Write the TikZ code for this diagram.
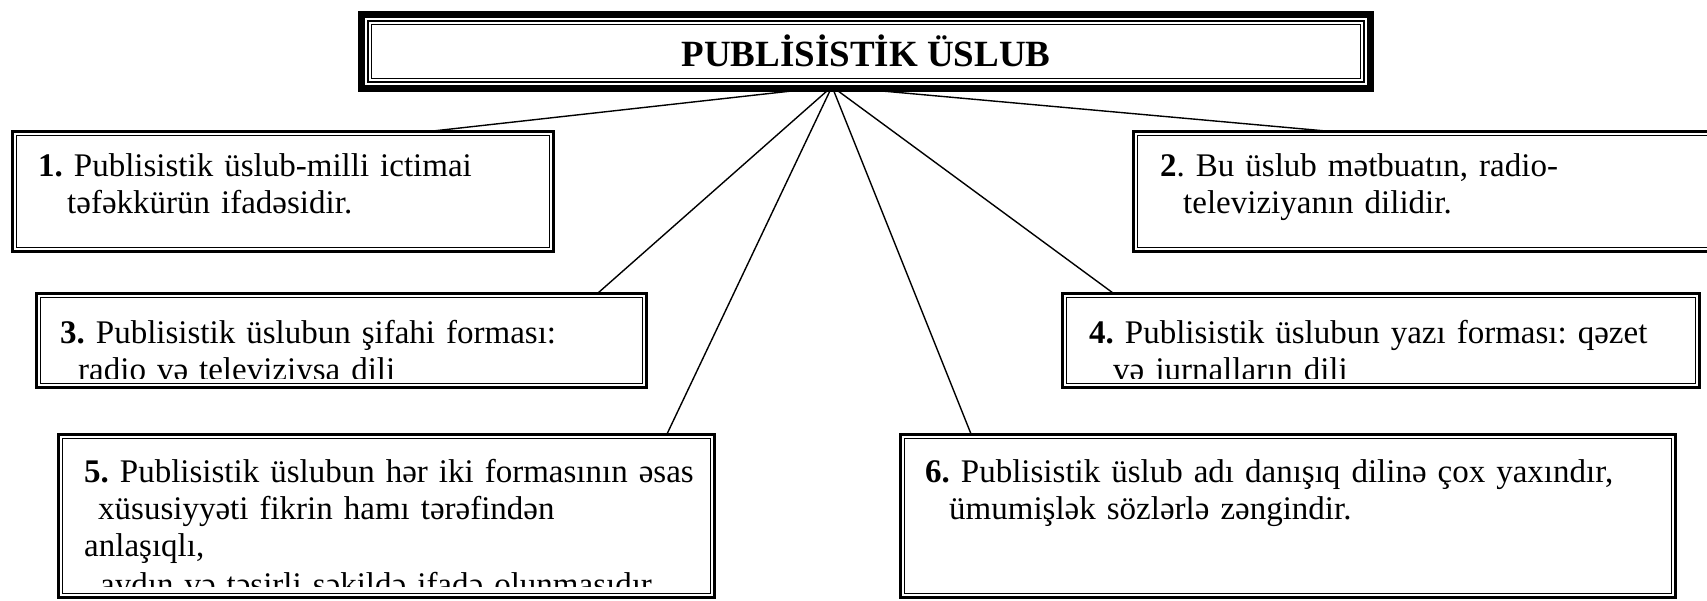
\documentclass[tikz,border=0pt]{standalone}
\usepackage{fontspec}
\setmainfont{Liberation Serif}
\usetikzlibrary{calc}
\tikzset{
  box/.style={draw, line width=2.6pt, inner sep=0pt},
  txt/.style={anchor=base west, inner sep=0pt, align=left, text width=900pt,
    font=\fontsize{33}{37}\selectfont},
  link/.style={line width=1.4pt},
  innerline/.style={line width=1.3pt}
}
\newcommand\frameinner[3]{\draw[#3] ([xshift=#2,yshift=-#2]#1.north west) rectangle ([xshift=-#2,yshift=#2]#1.south east);}
\begin{document}
\frenchspacing
\begin{tikzpicture}[x=1pt,y=-1pt]
\clip (0,0) rectangle (1707,600);
\fill[white] (0,0) rectangle (1707,600);

% title
\node[draw, line width=7pt, minimum width=1009pt, minimum height=74pt, inner sep=0pt,
  font=\fontsize{37}{40}\selectfont\bfseries] (title) at (866,51) {PUBLİSİSTİK ÜSLUB};
\frameinner{title}{10pt}{line width=2pt}
\frameinner{title}{13.5pt}{line width=1pt}

% boxes
\node[box, minimum width=541.4pt, minimum height=120.4pt] (b1) at (283,191.5) {};
\node[box, minimum width=585.4pt, minimum height=120.4pt] (b2) at (1426,191.5) {};
\node[box, minimum width=610.4pt, minimum height=94.4pt] (b3) at (341.5,340.5) {};
\node[box, minimum width=637.4pt, minimum height=94.4pt] (b4) at (1381,340.5) {};
\node[box, minimum width=656.4pt, minimum height=163.4pt] (b5) at (386.5,516) {};
\node[box, minimum width=775.4pt, minimum height=163.4pt] (b6) at (1288,516) {};
\foreach \b in {b1,b2,b3,b4,b5,b6}{\frameinner{\b}{5.5pt}{innerline}}

% texts
\node[txt] (t1) at (38,176) {\textbf{1.} Publisistik üslub-milli ictimai\\\hspace*{29pt}təfəkkürün ifadəsidir.};
\node[txt] (t2) at (1160,176) {\textbf{2}. Bu üslub mətbuatın, radio-\\\hspace*{23pt}televiziyanın dilidir.};
\begin{scope}
  \clip (b3.north west) rectangle ([yshift=11pt]b3.south east);
  \node[txt] (t3) at (60,343) {\textbf{3.} Publisistik üslubun şifahi forması:\\\hspace*{18pt}radio və televiziysa dili};
\end{scope}
\begin{scope}
  \clip (b4.north west) rectangle ([yshift=11pt]b4.south east);
  \node[txt] (t4) at (1089,343) {\textbf{4.} Publisistik üslubun yazı forması: qəzet\\\hspace*{24pt}və jurnalların dili};
\end{scope}
\begin{scope}
  \clip (b5.north west) rectangle ([yshift=13pt]b5.south east);
  \node[txt] (t5) at (84,482) {\textbf{5.} Publisistik üslubun hər iki formasının əsas\\\hspace*{14pt}xüsusiyyəti fikrin hamı tərəfindən\\anlaşıqlı,\\[2pt]\hspace*{16pt}aydın və təsirli şəkildə ifadə olunmasıdır.};
\end{scope}
\node[txt] (t6) at (925,482) {\textbf{6.} Publisistik üslub adı danışıq dilinə çox yaxındır,\\\hspace*{24pt}ümumişlək sözlərlə zəngindir.};

% connectors
\coordinate (hub) at ([xshift=-34pt,yshift=5pt]title.south);
\coordinate (e1) at (433,131);
\coordinate (e2) at (1326,131);
\coordinate (e3) at (598,293);
\coordinate (e4) at (1113,293);
\coordinate (e5) at (667,434);
\coordinate (e6) at (971,434);
\foreach \e in {e1,e2,e3,e4,e5,e6}{\draw[link] (hub) -- (\e);}
\end{tikzpicture}
\end{document}
